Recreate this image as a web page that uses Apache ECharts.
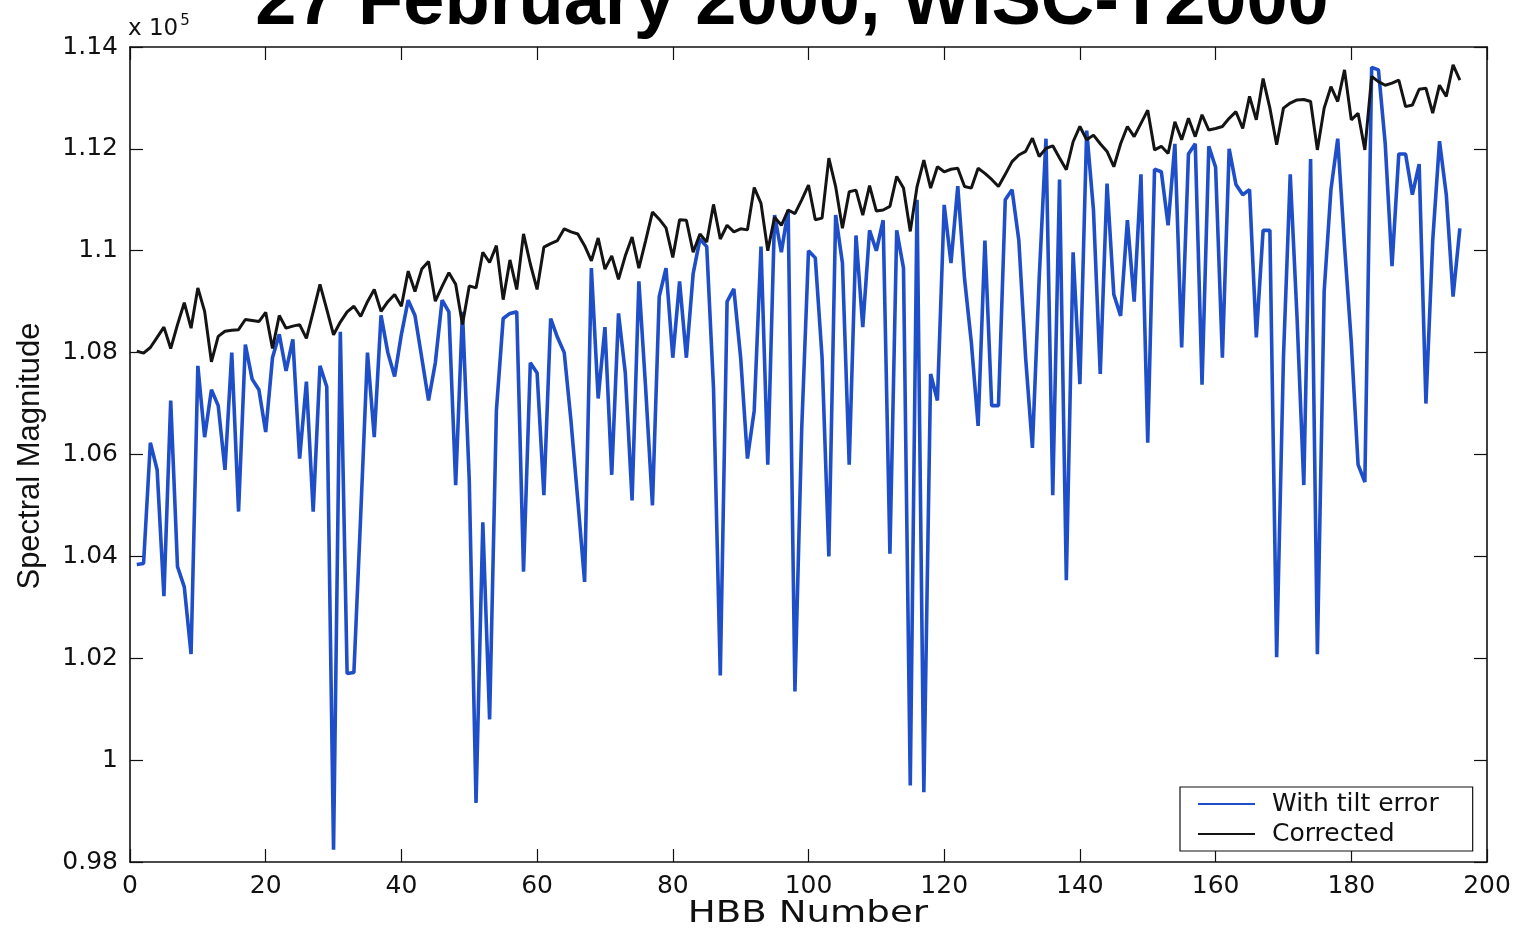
<!DOCTYPE html>
<html>
<head>
<meta charset="utf-8">
<script src="https://cdn.jsdelivr.net/npm/echarts@6/dist/echarts.min.js"></script>
<style>
  html, body { margin: 0; padding: 0; background: #fff; }
  #chart { width: 1518px; height: 930px; }
</style>
</head>
<body>
<div id="chart"></div>
<script>
// Spectral magnitude per HBB number, in units of 1e5
const hbbNumbers = Array.from({ length: 196 }, (_, i) => i + 1);

const withTiltError = [
  1.0384, 1.0386, 1.0623, 1.0570, 1.0322, 1.0706, 1.0380, 1.0340, 1.0208, 1.0774,
  1.0634, 1.0727, 1.0696, 1.0570, 1.0800, 1.0488, 1.0816, 1.0748, 1.0727, 1.0644,
  1.0790, 1.0836, 1.0764, 1.0826, 1.0592, 1.0743, 1.0488, 1.0774, 1.0733, 0.9824,
  1.0841, 1.0170, 1.0172, 1.0480, 1.0800, 1.0634, 1.0873, 1.0800, 1.0753, 1.0836,
  1.0903, 1.0873, 1.0790, 1.0706, 1.0780, 1.0903, 1.0880, 1.0540, 1.0880, 1.0550,
  0.9916, 1.0467, 1.0080, 1.0686, 1.0867, 1.0877, 1.0880, 1.0370, 1.0780, 1.0760,
  1.0520, 1.0867, 1.0830, 1.0800, 1.0665, 1.0510, 1.0350, 1.0966, 1.0710, 1.0850,
  1.0560, 1.0877, 1.0760, 1.0510, 1.0940, 1.0730, 1.0500, 1.0910, 1.0966, 1.0790,
  1.0940, 1.0790, 1.0955, 1.1023, 1.1008, 1.0730, 1.0166, 1.0900, 1.0925, 1.0790,
  1.0592, 1.0686, 1.1008, 1.0580, 1.1070, 1.0997, 1.1080, 1.0135, 1.0650, 1.1000,
  1.0986, 1.0790, 1.0400, 1.1070, 1.0976, 1.0580, 1.1030, 1.0850, 1.1040, 1.1000,
  1.1060, 1.0405, 1.1040, 1.0966, 0.9950, 1.1100, 0.9937, 1.0758, 1.0706, 1.1090,
  1.0976, 1.1127, 1.0945, 1.0820, 1.0656, 1.1020, 1.0696, 1.0696, 1.1100, 1.1120,
  1.1020, 1.0790, 1.0613, 1.0945, 1.1220, 1.0520, 1.1140, 1.0353, 1.0997, 1.0738,
  1.1236, 1.1080, 1.0758, 1.1132, 1.0914, 1.0872, 1.1060, 1.0900, 1.1150, 1.0623,
  1.1160, 1.1155, 1.1050, 1.1210, 1.0810, 1.1190, 1.1210, 1.0737, 1.1205, 1.1164,
  1.0790, 1.1200, 1.1130, 1.1110, 1.1120, 1.0830, 1.1040, 1.1040, 1.0202, 1.0790,
  1.1150, 1.0870, 1.0540, 1.1180, 1.0208, 1.0920, 1.1120, 1.1220, 1.1010, 1.0820,
  1.0580, 1.0546, 1.1360, 1.1355, 1.1210, 1.0970, 1.1190, 1.1190, 1.1110, 1.1170,
  1.0700, 1.1020, 1.1215, 1.1110, 1.0910, 1.1044
];

const corrected = [
  1.0803, 1.0799, 1.0810, 1.0830, 1.0850, 1.0808, 1.0855, 1.0898, 1.0848, 1.0927,
  1.0881, 1.0782, 1.0832, 1.0842, 1.0844, 1.0845, 1.0865, 1.0863, 1.0861, 1.0879,
  1.0808, 1.0873, 1.0848, 1.0852, 1.0855, 1.0828, 1.0880, 1.0934, 1.0885, 1.0835,
  1.0860, 1.0880, 1.0891, 1.0871, 1.0900, 1.0924, 1.0881, 1.0900, 1.0914, 1.0891,
  1.0960, 1.0920, 1.0964, 1.0979, 1.0901, 1.0930, 1.0957, 1.0934, 1.0855, 1.0931,
  1.0927, 1.0997, 1.0977, 1.1010, 1.0904, 1.0982, 1.0924, 1.1033, 1.0974, 1.0924,
  1.1007, 1.1014, 1.1020, 1.1043, 1.1037, 1.1033, 1.1010, 1.0980, 1.1025, 1.0964,
  1.0990, 1.0944, 1.0990, 1.1027, 1.0966, 1.1020, 1.1076, 1.1062, 1.1045, 1.0987,
  1.1061, 1.1060, 1.0997, 1.1033, 1.1017, 1.1091, 1.1023, 1.1050, 1.1037, 1.1043,
  1.1041, 1.1124, 1.1093, 1.1000, 1.1066, 1.1050, 1.1080, 1.1073, 1.1100, 1.1129,
  1.1061, 1.1064, 1.1182, 1.1126, 1.1044, 1.1116, 1.1119, 1.1070, 1.1128, 1.1078,
  1.1080, 1.1087, 1.1146, 1.1123, 1.1038, 1.1126, 1.1178, 1.1123, 1.1165, 1.1155,
  1.1160, 1.1162, 1.1126, 1.1123, 1.1162, 1.1152, 1.1140, 1.1126, 1.1150, 1.1175,
  1.1188, 1.1195, 1.1221, 1.1185, 1.1201, 1.1206, 1.1182, 1.1159, 1.1214, 1.1244,
  1.1218, 1.1227, 1.1210, 1.1195, 1.1165, 1.1210, 1.1244, 1.1224, 1.1250, 1.1276,
  1.1198, 1.1205, 1.1191, 1.1253, 1.1218, 1.1260, 1.1224, 1.1267, 1.1237, 1.1240,
  1.1244, 1.1260, 1.1273, 1.1240, 1.1303, 1.1257, 1.1338, 1.1280, 1.1208, 1.1280,
  1.1290, 1.1296, 1.1297, 1.1293, 1.1198, 1.1280, 1.1322, 1.1293, 1.1355, 1.1257,
  1.1270, 1.1198, 1.1342, 1.1332, 1.1325, 1.1329, 1.1335, 1.1283, 1.1286, 1.1317,
  1.1319, 1.1270, 1.1325, 1.1303, 1.1365, 1.1335
];

const seriesNames = ['With tilt error', 'Corrected'];
const titleText = '27 February 2000, WISC-T2000';
const xAxisName = 'HBB Number';
const yAxisName = 'Spectral Magnitude';

const pairs = (ys) => hbbNumbers.map((x, i) => [x, ys[i]]);
const tickFont = 'DejaVu Sans';
const frameColor = '#111111';

const chart = echarts.init(document.getElementById('chart'), null, { renderer: 'canvas' });

const baseAxisLine = { show: true, onZero: false, lineStyle: { color: frameColor, width: 1.6 } };
const insideTick = { show: true, inside: true, length: 13, lineStyle: { color: frameColor, width: 1.2 } };

chart.setOption({
  animation: false,
  backgroundColor: '#ffffff',
  grid: { left: 130, right: 31, top: 47, bottom: 68, containLabel: false, outerBoundsMode: 'none' },
  xAxis: [
    {
      type: 'value', min: 0, max: 200, interval: 20, position: 'bottom',
      axisLine: baseAxisLine, axisTick: insideTick, splitLine: { show: false },
      axisLabel: { fontFamily: tickFont, fontSize: 25, color: '#111', margin: 12 }
    },
    {
      type: 'value', min: 0, max: 200, interval: 20, position: 'top',
      axisLine: baseAxisLine, axisTick: insideTick, splitLine: { show: false },
      axisLabel: { show: false }
    }
  ],
  yAxis: [
    {
      type: 'value', min: 0.98, max: 1.14, interval: 0.02, position: 'left',
      axisLine: baseAxisLine, axisTick: insideTick, splitLine: { show: false },
      axisLabel: {
        fontFamily: tickFont, fontSize: 25, color: '#111', margin: 12,
        formatter: (v) => String(parseFloat(v.toFixed(2)))
      }
    },
    {
      type: 'value', min: 0.98, max: 1.14, interval: 0.02, position: 'right',
      axisLine: baseAxisLine, axisTick: insideTick, splitLine: { show: false },
      axisLabel: { show: false }
    }
  ],
  legend: {
    orient: 'vertical',
    left: 1180, top: 787,
    padding: [4, 34, 4, 18],
    itemGap: 4,
    itemWidth: 57, itemHeight: 2,
    icon: 'rect',
    backgroundColor: '#ffffff',
    borderColor: frameColor, borderWidth: 1.2, borderRadius: 0,
    textStyle: { fontFamily: tickFont, fontSize: 25, color: '#111', lineHeight: 26, padding: [0, 0, 0, 12] },
    data: seriesNames
  },
  graphic: [
    {
      type: 'text', x: 792, y: 4,
      style: { text: titleText, font: 'bold 74px "Liberation Sans"', fill: '#000', textAlign: 'center', textVerticalAlign: 'middle' }
    },
    {
      type: 'text', x: 808, y: 914, scaleX: 1.2,
      style: { text: xAxisName, font: '31px "DejaVu Sans"', fill: '#111', textAlign: 'center', textVerticalAlign: 'middle' }
    },
    {
      type: 'text', x: 30, y: 456, rotation: Math.PI / 2,
      style: { text: yAxisName, font: '31px "Liberation Sans"', fill: '#111', textAlign: 'center', textVerticalAlign: 'middle' }
    },
    {
      type: 'text', x: 128, y: 29,
      style: {
        text: '{b|x 10}{s|5}',
        rich: {
          b: { fontFamily: tickFont, fontSize: 23, fill: '#111', color: '#111' },
          s: { fontFamily: tickFont, fontSize: 15, fill: '#111', color: '#111', verticalAlign: 'top', padding: [0, 0, 16, 2] }
        },
        textVerticalAlign: 'middle'
      }
    }
  ],
  series: [
    {
      name: seriesNames[0], type: 'line', data: pairs(withTiltError),
      xAxisIndex: 0, yAxisIndex: 0,
      showSymbol: false, symbol: 'none',
      lineStyle: { color: '#1e4ec8', width: 3.6 },
      itemStyle: { color: '#1e4ec8' },
      z: 2
    },
    {
      name: seriesNames[1], type: 'line', data: pairs(corrected),
      xAxisIndex: 0, yAxisIndex: 0,
      showSymbol: false, symbol: 'none',
      lineStyle: { color: '#141414', width: 3 },
      itemStyle: { color: '#141414' },
      z: 3
    }
  ]
});
</script>
</body>
</html>
